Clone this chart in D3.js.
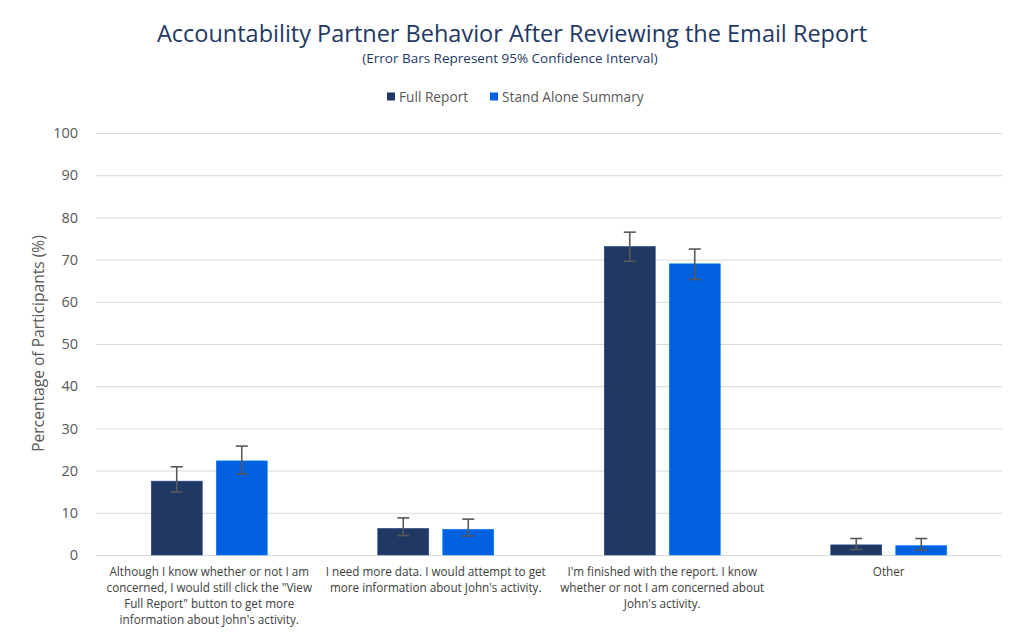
<!DOCTYPE html>
<html><head><meta charset="utf-8">
<script src="https://cdn.jsdelivr.net/npm/d3@7"></script>
<style>body{margin:0;background:#fff;font-family:"Open Sans",sans-serif;}</style>
</head><body><svg id="c" width="1024" height="640"></svg>
<script>
const categories = [
  ["Although I know whether or not I am","concerned, I would still click the \"View","Full Report\" button to get more","information about John's activity."],
  ["I need more data. I would attempt to get","more information about John's activity."],
  ["I'm finished with the report. I know","whether or not I am concerned about","John's activity."],
  ["Other"]
];
const seriesNames = ["Full Report","Stand Alone Summary"];
const fullReport = [17.5, 6.3, 73.1, 2.4];
const fullReportLow = [14.9, 4.6, 69.6, 1.3];
const fullReportHigh = [20.9, 8.8, 76.5, 3.9];
const standAlone = [22.3, 6.1, 69.0, 2.2];
const standAloneLow = [19.2, 4.5, 65.3, 1.2];
const standAloneHigh = [25.8, 8.5, 72.5, 3.9];
const yTicks = [0,10,20,30,40,50,60,70,80,90,100];
const colors = ["#1F3864","#0060E0"];

const svg = d3.select("#c");
const pLeft = 96, pRight = 1002, pTop = 133, pBottom = 555;
const x0 = d3.scaleBand().domain(d3.range(categories.length)).range([pLeft, pRight]).padding(0);
const groupW = 116;
const x1 = d3.scaleBand().domain(seriesNames).range([0, groupW]).paddingInner(14/65);
const y = d3.scaleLinear().domain([0,100]).range([pBottom, pTop]);

// grid
svg.append("g").selectAll("line").data(yTicks).join("line")
  .attr("x1", pLeft).attr("x2", pRight)
  .attr("y1", d=>y(d)+0.5).attr("y2", d=>y(d)+0.5)
  .attr("stroke", "#D9D9D9").attr("stroke-width", 1);

// y axis labels
const yAxis = d3.axisLeft(y).tickValues(yTicks).tickSize(0).tickPadding(0);
const ya = svg.append("g").attr("transform", `translate(78,0)`).call(yAxis);
ya.select(".domain").remove();
ya.selectAll("text").attr("font-family","Open Sans").attr("font-size",14.5).attr("fill","#595959");

// bars
const data = [
  {vals: fullReport, lo: fullReportLow, hi: fullReportHigh},
  {vals: standAlone, lo: standAloneLow, hi: standAloneHigh}
];
const off = (x0.bandwidth() - groupW) / 2;
data.forEach((s, si) => {
  const g = svg.append("g");
  const bx = i => x0(i) + off + x1(seriesNames[si]);
  g.selectAll("rect").data(s.vals).join("rect")
    .attr("x", (d,i)=>bx(i)).attr("width", x1.bandwidth())
    .attr("y", d=>y(d)).attr("height", d=>y(0)-y(d))
    .attr("fill", colors[si]).attr("stroke", d3.color(colors[si]).brighter(0.8)).attr("stroke-width", 0.6);
  const eb = svg.append("g").attr("stroke","#595959").attr("stroke-width",1.6);
  s.vals.forEach((d,i)=>{
    const cx = bx(i) + x1.bandwidth()/2;
    eb.append("line").attr("x1",cx).attr("x2",cx).attr("y1",y(s.hi[i])).attr("y2",y(s.lo[i]));
    eb.append("line").attr("x1",cx-6).attr("x2",cx+6).attr("y1",y(s.hi[i])).attr("y2",y(s.hi[i]));
    eb.append("line").attr("x1",cx-6).attr("x2",cx+6).attr("y1",y(s.lo[i])).attr("y2",y(s.lo[i]));
  });
});

// category labels
categories.forEach((lines, i) => {
  const t = svg.append("text").attr("x", x0(i) + x0.bandwidth()/2).attr("y", 576)
    .attr("text-anchor","middle").attr("font-family","Open Sans").attr("font-size",11.7).attr("fill","#404040");
  lines.forEach((l, j) => t.append("tspan").attr("x", x0(i) + x0.bandwidth()/2).attr("dy", j===0?0:16).text(l));
});

// y title
svg.append("text").attr("transform","translate(44,343.5) rotate(-90)").attr("text-anchor","middle")
  .attr("font-family","Open Sans").attr("font-size",15.6).attr("fill","#595959").text("Percentage of Participants (%)");

// title
svg.append("text").attr("x",512).attr("y",42).attr("text-anchor","middle").attr("font-family","Open Sans")
  .attr("font-size",23.5).attr("fill","#1F3864").text("Accountability Partner Behavior After Reviewing the Email Report");
svg.append("text").attr("x",510).attr("y",63).attr("text-anchor","middle").attr("font-family","Open Sans")
  .attr("font-size",13.5).attr("fill","#1F3864").text("(Error Bars Represent 95% Confidence Interval)");

// legend
const leg = svg.append("g");
const legX = [387, 490];
seriesNames.forEach((n,i)=>{
  leg.append("rect").attr("x",legX[i]).attr("y",92.5).attr("width",8).attr("height",8).attr("fill",colors[i]);
  leg.append("text").attr("x",legX[i]+12).attr("y",101.5).attr("font-family","Open Sans").attr("font-size",13.7)
    .attr("fill","#595959").text(n);
});
</script></body></html>
